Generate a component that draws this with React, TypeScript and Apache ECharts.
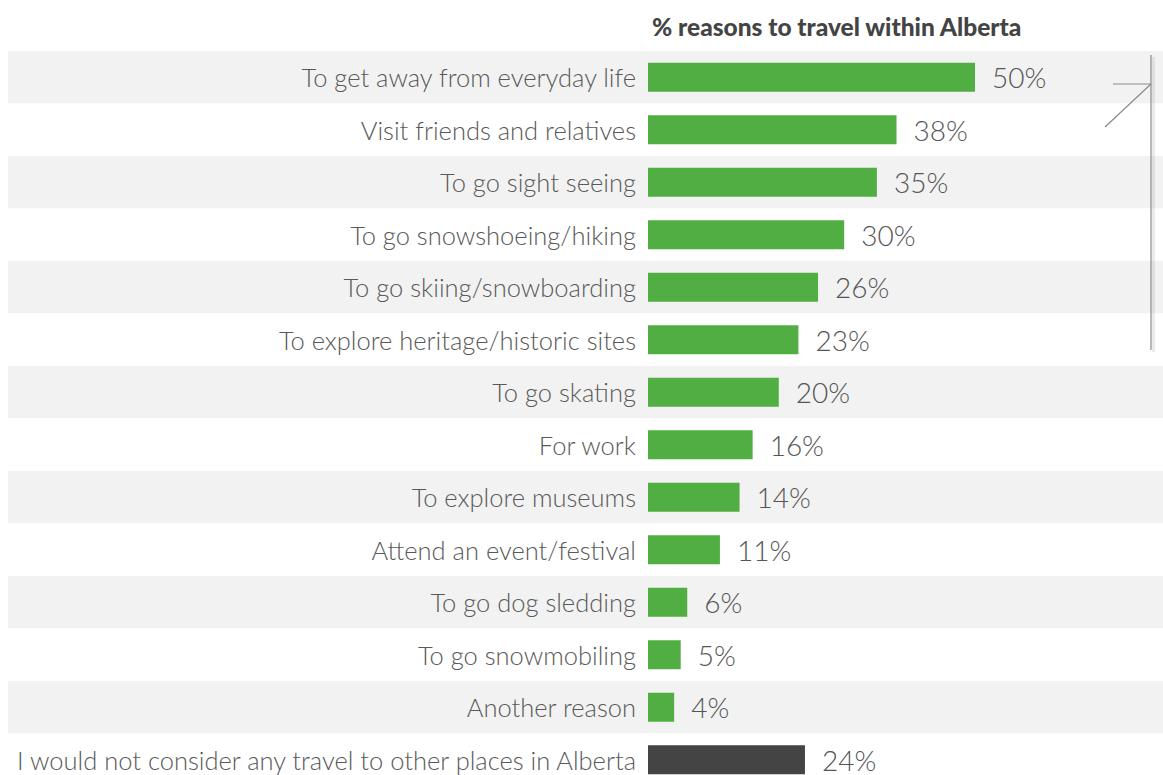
import React, { useEffect, useRef } from "react";
import * as echarts from "echarts";

const categories = [
  "To get away from everyday life",
  "Visit friends and relatives",
  "To go sight seeing",
  "To go snowshoeing/hiking",
  "To go skiing/snowboarding",
  "To explore heritage/historic sites",
  "To go skating",
  "For work",
  "To explore museums",
  "Attend an event/festival",
  "To go dog sledding",
  "To go snowmobiling",
  "Another reason",
  "I would not consider any travel to other places in Alberta",
];
const values = [50, 38, 35, 30, 26, 23, 20, 16, 14, 11, 6, 5, 4, 24];
const title = "% reasons to travel within Alberta";

const GREEN = "#51ae42";
const DARK = "#444444";
const FONT = "Lato, 'Open Sans', sans-serif";

export default function App() {
  const ref = useRef<HTMLDivElement>(null);
  useEffect(() => {
    if (!ref.current) return;
    const chart = echarts.init(ref.current, null, { renderer: "svg" });
    const top = 51;
    const height = 735;
    chart.setOption({
      animation: false,
      backgroundColor: "#ffffff",
      title: {
        text: title,
        left: 647,
        top: 9,
        textStyle: { fontFamily: FONT, fontWeight: 900, fontSize: 24.5, color: "#444444" },
      },
      grid: [
        { left: 8, right: 0, top, height, containLabel: false },
        { left: 648, width: 392.4, top, height, containLabel: false },
      ],
      xAxis: [
        { gridIndex: 0, type: "value", min: 0, max: 1, show: false },
        { gridIndex: 1, type: "value", min: 0, max: 60, show: false },
      ],
      yAxis: [
        {
          gridIndex: 0,
          type: "category",
          data: categories,
          inverse: true,
          axisLine: { show: false },
          axisTick: { show: false },
          axisLabel: { show: false },
          splitLine: { show: false },
          splitArea: { show: true, areaStyle: { color: ["#f2f2f2", "#ffffff"] } },
        },
        {
          gridIndex: 1,
          type: "category",
          data: categories,
          inverse: true,
          axisLine: { show: false },
          axisTick: { show: false },
          splitLine: { show: false },
          axisLabel: {
            fontFamily: FONT,
            fontWeight: 300,
            fontSize: 25.5,
            color: "#595959",
            margin: 12,
          },
        },
      ],
      series: [
        {
          type: "bar",
          xAxisIndex: 0,
          yAxisIndex: 0,
          data: [],
          silent: true,
        },
        {
          type: "bar",
          xAxisIndex: 1,
          yAxisIndex: 1,
          barWidth: 29,
          data: values.map((v, i) => ({
            value: v,
            itemStyle: { color: i === values.length - 1 ? DARK : GREEN },
          })),
          label: {
            show: true,
            position: "right",
            distance: 17,
            formatter: "{c}%",
            fontFamily: FONT,
            fontWeight: 300,
            fontSize: 28,
            color: "#555555",
          },
        },
      ],
      graphic: [
        {
          type: "line",
          z: 99,
          shape: { x1: 1153.5, y1: 57, x2: 1153.5, y2: 352 },
          style: { stroke: "rgba(0,0,0,0.08)", lineWidth: 3 },
        },
        {
          type: "line",
          z: 100,
          shape: { x1: 1151, y1: 55, x2: 1151, y2: 350 },
          style: { stroke: "#8a8a8a", lineWidth: 1.2 },
        },
        {
          type: "line",
          z: 100,
          shape: { x1: 1113, y1: 84, x2: 1151, y2: 84 },
          style: { stroke: "#8a8a8a", lineWidth: 1.2 },
        },
        {
          type: "line",
          z: 100,
          shape: { x1: 1151, y1: 84, x2: 1105, y2: 127 },
          style: { stroke: "#8a8a8a", lineWidth: 1.2 },
        },
      ],
    });
    return () => chart.dispose();
  }, []);
  return (
    <div
      ref={ref}
      style={{ position: "absolute", left: 0, top: 0, width: 1163, height: 800 }}
    />
  );
}
